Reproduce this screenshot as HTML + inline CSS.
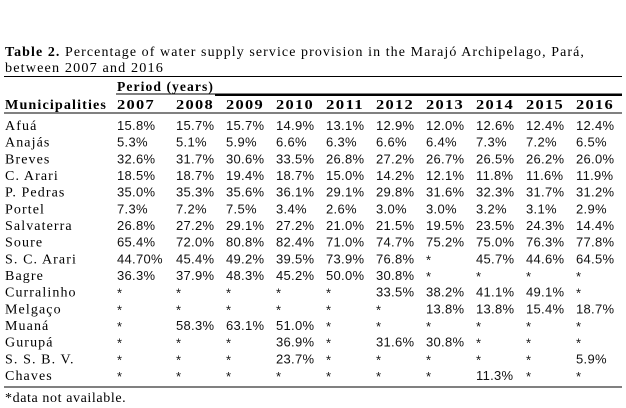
<!DOCTYPE html>
<html><head><meta charset="utf-8">
<style>
html,body{margin:0;padding:0;background:#fff;width:626px;height:408px;overflow:hidden}
svg{display:block}
.t{font-family:"Liberation Serif",serif;font-size:14px;letter-spacing:1.1px;fill:#000}
.b{font-weight:bold}
.n{font-family:"Liberation Sans",sans-serif;font-size:13px;letter-spacing:0.3px;fill:#111}
</style></head>
<body>
<svg id="tbl" width="626" height="408">
<text class="t" x="5" y="56" textLength="580" lengthAdjust="spacingAndGlyphs"><tspan class="b">Table 2.</tspan> Percentage of water supply service provision in the Marajó Archipelago, Pará,</text>
<text class="t" x="5" y="72" textLength="159" lengthAdjust="spacingAndGlyphs">between 2007 and 2016</text>
<line x1="4" y1="76.5" x2="622" y2="76.5" stroke="#000" stroke-width="1"/>
<text class="t b" x="117" y="91" textLength="97" lengthAdjust="spacingAndGlyphs">Period (years)</text>
<line x1="116" y1="94" x2="622" y2="94" stroke="#000" stroke-width="1"/>
<line x1="215" y1="95" x2="622" y2="95" stroke="#000" stroke-width="2"/>
<text class="t b" x="5" y="109" textLength="102" lengthAdjust="spacingAndGlyphs">Municipalities</text>
<line x1="4" y1="113" x2="622" y2="113" stroke="#000" stroke-width="1"/>
<line x1="4" y1="387" x2="622" y2="387" stroke="#000" stroke-width="1"/>
<text class="t" x="5" y="402" style="letter-spacing:0.6px">*data not available.</text>
<g id="body"></g>
</svg>
<script>
const years = ["2007","2008","2009","2010","2011","2012","2013","2014","2015","2016"];
const municipalities = ["Afuá","Anajás","Breves","C. Arari","P. Pedras","Portel","Salvaterra","Soure","S. C. Arari","Bagre","Curralinho","Melgaço","Muaná","Gurupá","S. S. B. V.","Chaves"];
const rowAfua = ["15.8%","15.7%","15.7%","14.9%","13.1%","12.9%","12.0%","12.6%","12.4%","12.4%"];
const rowAnajas = ["5.3%","5.1%","5.9%","6.6%","6.3%","6.6%","6.4%","7.3%","7.2%","6.5%"];
const rowBreves = ["32.6%","31.7%","30.6%","33.5%","26.8%","27.2%","26.7%","26.5%","26.2%","26.0%"];
const rowCArari = ["18.5%","18.7%","19.4%","18.7%","15.0%","14.2%","12.1%","11.8%","11.6%","11.9%"];
const rowPPedras = ["35.0%","35.3%","35.6%","36.1%","29.1%","29.8%","31.6%","32.3%","31.7%","31.2%"];
const rowPortel = ["7.3%","7.2%","7.5%","3.4%","2.6%","3.0%","3.0%","3.2%","3.1%","2.9%"];
const rowSalvaterra = ["26.8%","27.2%","29.1%","27.2%","21.0%","21.5%","19.5%","23.5%","24.3%","14.4%"];
const rowSoure = ["65.4%","72.0%","80.8%","82.4%","71.0%","74.7%","75.2%","75.0%","76.3%","77.8%"];
const rowSCArari = ["44.70%","45.4%","49.2%","39.5%","73.9%","76.8%","*","45.7%","44.6%","64.5%"];
const rowBagre = ["36.3%","37.9%","48.3%","45.2%","50.0%","30.8%","*","*","*","*"];
const rowCurralinho = ["*","*","*","*","*","33.5%","38.2%","41.1%","49.1%","*"];
const rowMelgaco = ["*","*","*","*","*","*","13.8%","13.8%","15.4%","18.7%"];
const rowMuana = ["*","58.3%","63.1%","51.0%","*","*","*","*","*","*"];
const rowGurupa = ["*","*","*","36.9%","*","31.6%","30.8%","*","*","*"];
const rowSSBV = ["*","*","*","23.7%","*","*","*","*","*","5.9%"];
const rowChaves = ["*","*","*","*","*","*","*","11.3%","*","*"];
const rows = [rowAfua,rowAnajas,rowBreves,rowCArari,rowPPedras,rowPortel,rowSalvaterra,rowSoure,rowSCArari,rowBagre,rowCurralinho,rowMelgaco,rowMuana,rowGurupa,rowSSBV,rowChaves];

const NS="http://www.w3.org/2000/svg";
const svg=document.getElementById('tbl');
const colX=i=>[117,176,226,276,326,376,426,476,526,576][i];
const rowY=i=>130+i*16.67;
years.forEach((y,i)=>{
  const t=document.createElementNS(NS,'text');
  t.setAttribute('class','t b');
  t.setAttribute('x',colX(i));t.setAttribute('y',109);
  t.setAttribute('textLength',38);t.setAttribute('lengthAdjust','spacingAndGlyphs');
  t.textContent=y;
  
  
  svg.appendChild(t);
});
municipalities.forEach((m,r)=>{
  const t=document.createElementNS(NS,'text');
  t.setAttribute('class','t');
  t.setAttribute('x',5);t.setAttribute('y',rowY(r));
  t.textContent=m;
  
  
  svg.appendChild(t);
  rows[r].forEach((v,c)=>{
    const d=document.createElementNS(NS,'text');
    d.setAttribute('class','n');
    d.setAttribute('x',colX(c));d.setAttribute('y',rowY(r)+(v==="*"?1:0));
    d.textContent=v;
    
    
    svg.appendChild(d);
  });
});
</script>
</body></html>
